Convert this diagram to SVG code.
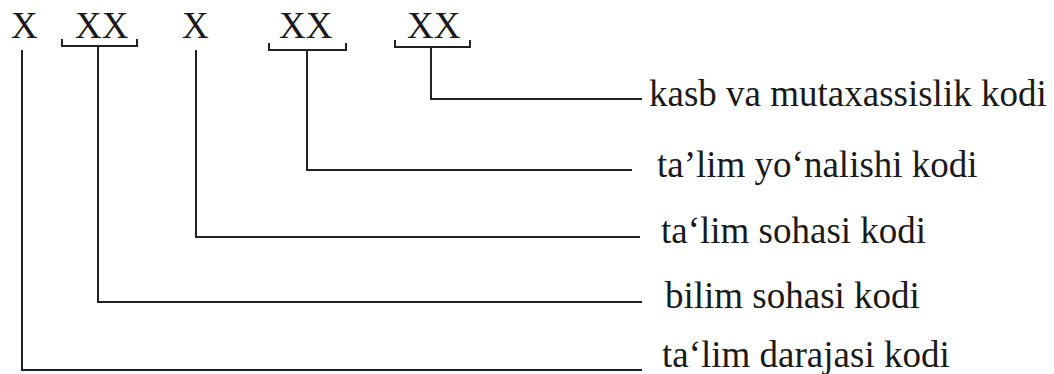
<svg xmlns="http://www.w3.org/2000/svg" width="1054" height="374" viewBox="0 0 1054 374">
<style>
text{font-family:"Liberation Serif","Times New Roman",serif;font-size:37px;fill:#1a1a1a}
.c{fill:none;stroke:#222;stroke-width:2}
</style>
<rect width="1054" height="374" fill="#fff"/>
<g id="code">
<g id="x1"><text x="11" y="38">X</text></g>
<g id="xx1"><text x="75" y="38">XX</text><path class="c" d="M62,39V46H137V39"/></g>
<g id="x2"><text x="182" y="38">X</text></g>
<g id="xx2"><text x="279" y="38">XX</text><path class="c" d="M269,43V50H346V43"/></g>
<g id="xx3"><text x="407" y="38">XX</text><path class="c" d="M395,40V47H470V40"/></g>
</g>
<g id="labels">
<g id="l1"><text x="649" y="106">kasb va mutaxassislik kodi</text></g>
<g id="l2"><text x="657" y="177">ta’lim yo‘nalishi kodi</text></g>
<g id="l3"><text x="661" y="243">ta‘lim sohasi kodi</text></g>
<g id="l4"><text x="665" y="308">bilim sohasi kodi</text></g>
<g id="l5"><text x="662" y="367">ta‘lim darajasi kodi</text></g>
</g>
<g id="connectors">
<path class="c" d="M431,47V99H642"/>
<path class="c" d="M307,50V170H632"/>
<path class="c" d="M196,50V237H640"/>
<path class="c" d="M98,46V302H642"/>
<path class="c" d="M22,50V370H642"/>
</g>
</svg>
